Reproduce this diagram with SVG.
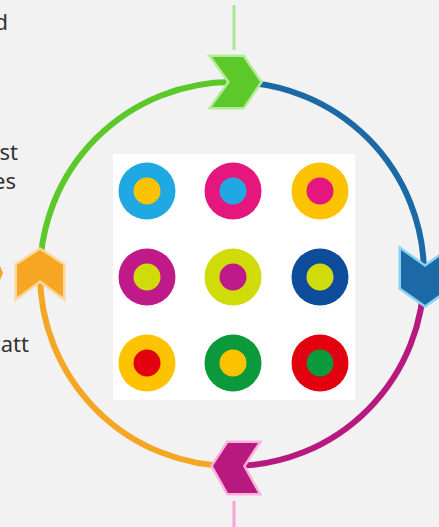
<svg xmlns="http://www.w3.org/2000/svg" width="439" height="527" viewBox="0 0 439 527">
  <style>
    .ring { fill: none; stroke-width: 6; }
    .chev { stroke-width: 5; stroke-linejoin: miter; paint-order: stroke; }
    .lbl { font-family: "Noto Sans", "Open Sans", sans-serif; font-size: 22px; fill: #333333; text-anchor: end; }
  </style>
  <rect width="439" height="527" fill="#f2f2f2"/>

  <!-- side labels, partly cut off at the left edge -->
  <g id="labels">
    <text class="lbl" x="8" y="30">d</text>
    <text class="lbl" x="18" y="160">st</text>
    <text class="lbl" x="16" y="189">es</text>
    <text class="lbl" x="29" y="352">catt</text>
    <polygon points="0,266 3,273 0,280" fill="#f5a623"/>
  </g>

  <!-- cycle ring and stems -->
  <g id="connectors">
    <line x1="234" y1="5" x2="234" y2="50" stroke="#a9e88e" stroke-width="3"/>
    <line x1="234" y1="501" x2="234" y2="527" stroke="#f5a3d3" stroke-width="3"/>
    <path class="ring" stroke="#5cc82a" d="M 40 274 A 192 192 0 0 1 232 82"/>
    <path class="ring" stroke="#1b6aa5" d="M 232 82 A 192 192 0 0 1 424 274"/>
    <path class="ring" stroke="#b8197f" d="M 424 274 A 192 192 0 0 1 232 466"/>
    <path class="ring" stroke="#f5a623" d="M 232 466 A 192 192 0 0 1 40 274"/>
  </g>

  <!-- chevrons on the ring -->
  <g id="arrow-top">
    <polygon class="chev" fill="#5cc82a" stroke="#b4eb98" points="212,57 243,57 260,82 243,107 212,107 230,82"/>
  </g>
  <g id="arrow-right">
    <polygon class="chev" fill="#1b6aa5" stroke="#86d3f2" points="401,250 425,267 449,250 449,288 425,305 401,288"/>
  </g>
  <g id="arrow-bottom">
    <polygon class="chev" fill="#b8197f" stroke="#f8b3dd" points="213,466 228,443 258,443 243,466 258,493 228,493"/>
  </g>
  <g id="arrow-left">
    <polygon class="chev" fill="#f5a623" stroke="#fcd79a" points="40,250 63,265 63,297 40,280 17,297 17,265"/>
  </g>

  <!-- centre panel with nine rings -->
  <g id="panel">
    <rect x="113" y="154" width="242" height="246" fill="#ffffff"/>
    <circle cx="147" cy="191" r="28.5" fill="#1fa8e1"/>
    <circle cx="147" cy="191" r="13.5" fill="#fdc300"/>
    <circle cx="233" cy="191" r="28.5" fill="#e5177f"/>
    <circle cx="233" cy="191" r="13.5" fill="#1fa8e1"/>
    <circle cx="320" cy="191" r="28.5" fill="#fdc300"/>
    <circle cx="320" cy="191" r="13.5" fill="#e5177f"/>

    <circle cx="147" cy="277" r="28.5" fill="#c01a8a"/>
    <circle cx="147" cy="277" r="13.5" fill="#cfdc0a"/>
    <circle cx="233" cy="277" r="28.5" fill="#cfdc0a"/>
    <circle cx="233" cy="277" r="13.5" fill="#c01a8a"/>
    <circle cx="320" cy="277" r="28.5" fill="#0f4c9c"/>
    <circle cx="320" cy="277" r="13.5" fill="#cfdc0a"/>

    <circle cx="147" cy="363" r="28.5" fill="#fdc300"/>
    <circle cx="147" cy="363" r="13.5" fill="#e3000f"/>
    <circle cx="233" cy="363" r="28.5" fill="#0a9a3c"/>
    <circle cx="233" cy="363" r="13.5" fill="#fdc300"/>
    <circle cx="320" cy="363" r="28.5" fill="#e3000f"/>
    <circle cx="320" cy="363" r="13.5" fill="#0a9a3c"/>
  </g>
</svg>
